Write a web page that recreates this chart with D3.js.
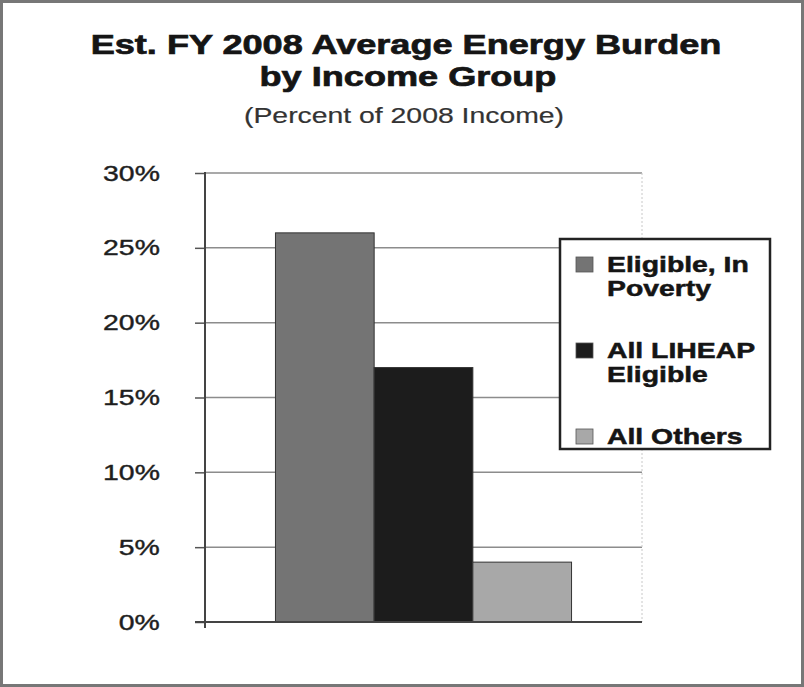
<!DOCTYPE html>
<meta charset="utf-8">
<style>
  body { margin: 0; background: #fff; }
  svg { display: block; font-family: "Liberation Sans", Arial, sans-serif; }
</style>
<script src="https://d3js.org/d3.v7.min.js"></script>
<div id="chart"></div>
<script>
// data
var groups = ["FY 2008"];
var series = ["Eligible, In Poverty", "All LIHEAP Eligible", "All Others"];
var legendLines = [["Eligible, In", "Poverty"], ["All LIHEAP", "Eligible"], ["All Others"]];
var values = [0.26, 0.17, 0.04];
var yTicks = [0, 0.05, 0.10, 0.15, 0.20, 0.25, 0.30];
var colors = ["#747474", "#1c1c1c", "#a8a8a8"];

var W = 804, H = 687;
var sx = 1.29; // the source picture is stretched sideways

var plot = {left: 205, right: 642, top: 173, bottom: 622};

var svg = d3.select("#chart").append("svg")
  .attr("width", W).attr("height", H);

// outer frame
svg.append("rect")
  .attr("x", 1.5).attr("y", 1.5)
  .attr("width", W - 3).attr("height", H - 3)
  .attr("fill", "#fff").attr("stroke", "#777").attr("stroke-width", 3);

// helper: stretched text, with a thin outline to match the heavy scan
function label(x, y, txt, size, weight, anchor, fill, thick) {
  svg.append("g")
    .attr("transform", "translate(" + x + "," + y + ") scale(" + sx + ",1)")
    .append("text")
      .attr("text-anchor", anchor)
      .attr("font-size", size)
      .attr("font-weight", weight)
      .attr("fill", fill)
      .attr("stroke", fill)
      .attr("stroke-width", thick || 0)
      .text(txt);
}

// titles
label(406, 54, "Est. FY 2008 Average Energy Burden", 28, "bold", "middle", "#151515", 0.7);
label(408, 86, "by Income Group", 28, "bold", "middle", "#151515", 0.7);
label(404, 123, "(Percent of 2008 Income)", 22, "normal", "middle", "#333", 0.2);

// scales
var y = d3.scaleLinear().domain([0, 0.30]).range([plot.bottom, plot.top]);
var x0 = d3.scaleBand().domain(groups).range([plot.left, plot.right])
  .paddingInner(0).paddingOuter(0.238);
var x1 = d3.scaleBand().domain(series).range([0, x0.bandwidth()]).padding(0);

// gridlines
svg.append("g").selectAll("line")
  .data(yTicks.filter(function(d) { return d > 0; }))
  .enter().append("line")
    .attr("x1", plot.left).attr("x2", plot.right)
    .attr("y1", function(d) { return y(d); })
    .attr("y2", function(d) { return y(d); })
    .attr("stroke", "#8c8c8c").attr("stroke-width", 1.5);

// faint right border of plot
svg.append("line")
  .attr("x1", plot.right).attr("x2", plot.right)
  .attr("y1", y(0.30)).attr("y2", y(0))
  .attr("stroke", "#c8c8c8").attr("stroke-width", 1)
  .attr("stroke-dasharray", "2,2");

// bars
svg.append("g").selectAll("rect")
  .data(values)
  .enter().append("rect")
    .attr("x", function(d, i) { return x0(groups[0]) + x1(series[i]); })
    .attr("y", function(d) { return y(d); })
    .attr("width", x1.bandwidth())
    .attr("height", function(d) { return y(0) - y(d); })
    .attr("fill", function(d, i) { return colors[i]; })
    .attr("stroke", "#333").attr("stroke-width", 1);

// y axis
var yAxis = svg.append("g")
  .attr("transform", "translate(" + plot.left + ",0)")
  .call(d3.axisLeft(y).tickValues(yTicks).tickFormat(d3.format(".0%"))
    .tickSize(10).tickPadding(25));
yAxis.select(".domain").remove();
yAxis.selectAll(".tick line").attr("stroke", "#555").attr("stroke-width", 1.5);
yAxis.selectAll(".tick text")
  .attr("font-size", 22)
  .attr("font-family", "Liberation Sans, Arial, sans-serif")
  .attr("fill", "#1e1e1e")
  .attr("stroke", "#1e1e1e").attr("stroke-width", 0.4)
  .attr("transform", "scale(" + sx + ",1)");

// axis lines
svg.append("line")
  .attr("x1", plot.left).attr("x2", plot.left)
  .attr("y1", y(0.30) - 1).attr("y2", y(0) + 6)
  .attr("stroke", "#444").attr("stroke-width", 2);
svg.append("line")
  .attr("x1", plot.left - 10).attr("x2", plot.right)
  .attr("y1", y(0)).attr("y2", y(0))
  .attr("stroke", "#444").attr("stroke-width", 2);

// legend
var lg = svg.append("g");
lg.append("rect")
  .attr("x", 560).attr("y", 239)
  .attr("width", 210).attr("height", 210)
  .attr("fill", "#fff").attr("stroke", "#222").attr("stroke-width", 2.5);

series.forEach(function(s, i) {
  var top = 257 + i * 86;
  lg.append("rect")
    .attr("x", 576).attr("y", top)
    .attr("width", 17).attr("height", 15)
    .attr("fill", colors[i]).attr("stroke", "#555").attr("stroke-width", 0.8);
  legendLines[i].forEach(function(t, j) {
    label(607, top + 15 + j * 24, t, 22, "bold", "start", "#151515", 0.5);
  });
});
</script>
